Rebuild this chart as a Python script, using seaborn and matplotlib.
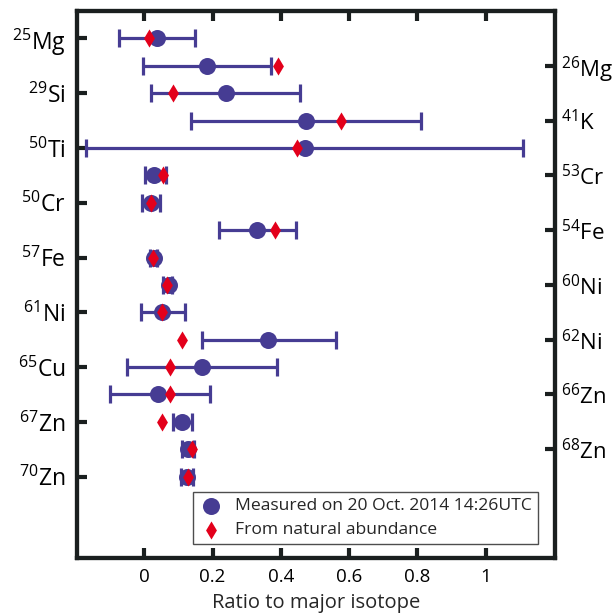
import matplotlib
matplotlib.use("Agg")
import matplotlib.pyplot as plt
import seaborn as sns
import pandas as pd
import numpy as np

# ---- data ----
isotopes = ["25Mg", "26Mg", "29Si", "41K", "50Ti", "53Cr", "50Cr", "54Fe", "57Fe",
            "60Ni", "61Ni", "62Ni", "65Cu", "66Zn", "67Zn", "68Zn", "70Zn"]
measured = [0.038, 0.185, 0.238, 0.475, 0.470, 0.029, 0.020, 0.329, 0.028,
            0.072, 0.053, 0.363, 0.168, 0.041, 0.111, 0.129, 0.124]
err_low = [-0.074, -0.003, 0.020, 0.137, -0.171, 0.002, -0.006, 0.219, 0.018,
           0.056, -0.011, 0.168, -0.052, -0.100, 0.085, 0.111, 0.107]
err_high = [0.148, 0.370, 0.456, 0.812, 1.108, 0.063, 0.046, 0.443, 0.038,
            0.082, 0.119, 0.561, 0.388, 0.192, 0.141, 0.146, 0.143]
natural = [0.014, 0.392, 0.085, 0.576, 0.446, 0.054, 0.020, 0.383, 0.025,
           0.066, 0.053, 0.112, 0.075, 0.075, 0.053, 0.141, 0.129]
xticks = [0, 0.2, 0.4, 0.6, 0.8, 1]
xtick_labels = ["0", "0.2", "0.4", "0.6", "0.8", "1"]
legend_labels = ["Measured on 20 Oct. 2014 14:26UTC", "From natural abundance"]

BLUE = "#463c93"
RED = "#e3001b"

sns.set_theme(style="white")
plt.rcParams['font.family'] = ['Open Sans', 'DejaVu Sans']
plt.rcParams['mathtext.fontset'] = 'custom'
plt.rcParams['mathtext.rm'] = 'Open Sans'

df = pd.DataFrame({"iso": isotopes, "pos": np.arange(len(isotopes)),
                   "measured": measured, "natural": natural,
                   "lo": err_low, "hi": err_high})

fig = plt.figure(figsize=(6.15, 6.13), dpi=100)
ax = fig.add_axes([0.1252, 0.0897, 0.9024 - 0.1252, 0.982 - 0.0897])

xerr = np.array([df["measured"] - df["lo"], df["hi"] - df["measured"]])
ax.errorbar(df["measured"], df["pos"], xerr=xerr, fmt="none", ecolor=BLUE,
            elinewidth=2.3, capsize=6.5, capthick=2.3, zorder=2)
sns.scatterplot(data=df, x="measured", y="pos", ax=ax, color=BLUE, marker="o",
                s=150, edgecolor=BLUE, linewidth=0, zorder=3, label=legend_labels[0])
sns.scatterplot(data=df, x="natural", y="pos", ax=ax, color=RED, marker="d",
                s=85, edgecolor=RED, linewidth=0, zorder=4, label=legend_labels[1])

ax.set_xlim(-0.197, 1.203)
ax.set_ylim(18.97, -1.0)

left_pos = list(range(0, len(isotopes), 2))
right_pos = list(range(1, len(isotopes), 2))

def lab(s):
    num = ''.join(c for c in s if c.isdigit())
    el = ''.join(c for c in s if not c.isdigit())
    return r"$^{%s}$%s" % (num, el)

ax.set_yticks(left_pos)
ax.set_yticklabels([lab(isotopes[i]) for i in left_pos], fontsize=16.5)
ax.set_xticks(xticks)
ax.set_xticklabels(xtick_labels, fontsize=13.5)
ax.set_xlabel("Ratio to major isotope", fontsize=14.5, labelpad=5)
ax.set_ylabel("")

ax2 = ax.twinx()
ax2.set_ylim(ax.get_ylim())
ax2.set_yticks(right_pos)
ax2.set_yticklabels([lab(isotopes[i]) for i in right_pos], fontsize=16)

for a in (ax, ax2):
    for sp in a.spines.values():
        sp.set_linewidth(3)
        sp.set_color("#1a1f1f")
    a.tick_params(direction="in", length=7.5, width=3, color="#1a1f1f", labelcolor="black")
ax.tick_params(axis="x", top=True, bottom=True, pad=7)
ax.tick_params(axis="y", left=True, right=False, pad=8)
ax2.tick_params(axis="y", right=True, pad=4)

leg = ax.legend(loc="lower right", bbox_to_anchor=(0.9644, 0.0256), fontsize=12.6,
                frameon=True, fancybox=False, edgecolor="#222222",
                borderpad=0.33, handletextpad=0.7, labelspacing=0.43, handlelength=1.4,
                borderaxespad=0)
leg.get_frame().set_linewidth(1.0)

fig.savefig("out.png", dpi=100)
